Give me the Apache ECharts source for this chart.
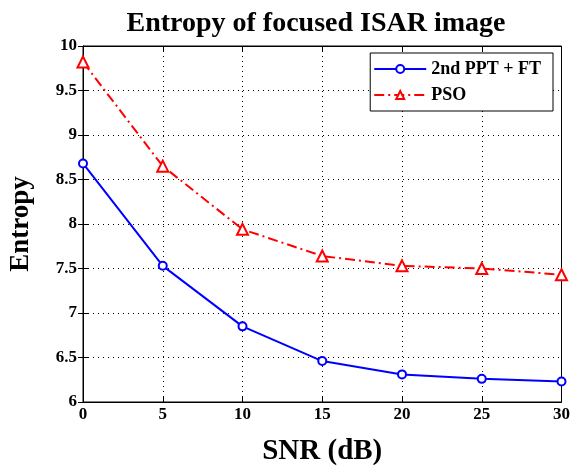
<!DOCTYPE html>
<html>
<head>
<meta charset="utf-8">
<script src="https://cdn.jsdelivr.net/npm/echarts@6/dist/echarts.min.js"></script>
<style>
  html, body { margin: 0; padding: 0; background: #fff; }
  #chart-container { width: 573px; height: 471px; }
</style>
</head>
<body>
<div id="chart-container"></div>
<script>
// SNR 值 (dB)
var snr = [0, 5, 10, 15, 20, 25, 30];
// 两种方法的熵
var pptFt = [8.68, 7.53, 6.85, 6.46, 6.31, 6.26, 6.23];
var pso = [9.82, 8.65, 7.94, 7.64, 7.53, 7.50, 7.43];
var yTicks = [6, 6.5, 7, 7.5, 8, 8.5, 9, 9.5, 10];

var font = '"Liberation Serif", "Times New Roman", serif';

function pairs(vals) {
    return snr.map((x, i) => [x, vals[i]]);
}

var myChart = echarts.init(document.getElementById('chart-container'));

var option = {
    backgroundColor: '#fff',
    animation: false,
    title: {
        text: 'Entropy of focused ISAR image',
        left: 311,
        textAlign: 'center',
        top: 5,
        textStyle: { fontFamily: font, fontWeight: 'bold', fontSize: 28, color: '#000' }
    },
    grid: { left: 73, right: 10, top: 46, bottom: 59, show: true, borderColor: '#000', borderWidth: 1 },
    legend: {
        right: 20,
        top: 53,
        orient: 'vertical',
        backgroundColor: '#fff',
        borderColor: '#000',
        borderWidth: 1,
        borderRadius: 0,
        padding: [7, 12, 7, 3],
        itemGap: 8,
        itemWidth: 52,
        itemHeight: 10,
        textStyle: { fontFamily: font, fontWeight: 'bold', fontSize: 18, color: '#000' },
        data: ['2nd PPT + FT', 'PSO']
    },
    xAxis: [{
        type: 'value',
        min: 0, max: 30, interval: 5,
        name: 'SNR (dB)',
        nameLocation: 'middle',
        nameGap: 35,
        nameTextStyle: { fontFamily: font, fontWeight: 'bold', fontSize: 29, color: '#000' },
        axisLine: { lineStyle: { color: '#000' } },
        axisTick: { inside: true, length: 5, lineStyle: { color: '#000' } },
        axisLabel: { fontFamily: font, fontWeight: 'bold', fontSize: 17, color: '#000', margin: 4 },
        splitLine: { show: true, lineStyle: { type: [1, 4], color: '#000' } }
    }, {
        type: 'value', position: 'top',
        min: 0, max: 30, interval: 5,
        axisLine: { lineStyle: { color: '#000' } },
        axisTick: { inside: true, length: 5, lineStyle: { color: '#000' } },
        axisLabel: { show: false },
        splitLine: { show: false }
    }],
    yAxis: [{
        type: 'value',
        min: 6, max: 10, interval: 0.5,
        name: 'Entropy',
        nameLocation: 'middle',
        nameGap: 48,
        nameTextStyle: { fontFamily: font, fontWeight: 'bold', fontSize: 27, color: '#000' },
        axisLine: { show: true, lineStyle: { color: '#000' } },
        axisTick: { show: true, inside: true, length: 5, lineStyle: { color: '#000' } },
        axisLabel: {
            fontFamily: font, fontWeight: 'bold', fontSize: 17, color: '#000', margin: 6,
            formatter: v => (yTicks.indexOf(v) >= 0 ? String(v) : '')
        },
        splitLine: { show: true, lineStyle: { type: [1, 4], color: '#000' } }
    }, {
        type: 'value', position: 'right',
        min: 6, max: 10, interval: 0.5,
        axisLine: { show: true, lineStyle: { color: '#000' } },
        axisTick: { show: true, inside: true, length: 5, lineStyle: { color: '#000' } },
        axisLabel: { show: false },
        splitLine: { show: false }
    }],
    series: [{
        name: '2nd PPT + FT',
        type: 'line',
        data: pairs(pptFt),
        symbol: 'circle',
        symbolSize: 8,
        showAllSymbol: true,
        lineStyle: { color: '#0000ff', width: 2 },
        itemStyle: { color: '#fff', borderColor: '#0000ff', borderWidth: 2 },
        z: 3
    }, {
        name: 'PSO',
        type: 'line',
        data: pairs(pso),
        symbol: 'triangle',
        symbolSize: 11,
        lineStyle: { color: '#ff0000', width: 2, type: [10, 4, 2, 4] },
        itemStyle: { color: '#fff', borderColor: '#ff0000', borderWidth: 2 },
        z: 3
    }]
};

myChart.setOption(option);
</script>
</body>
</html>
